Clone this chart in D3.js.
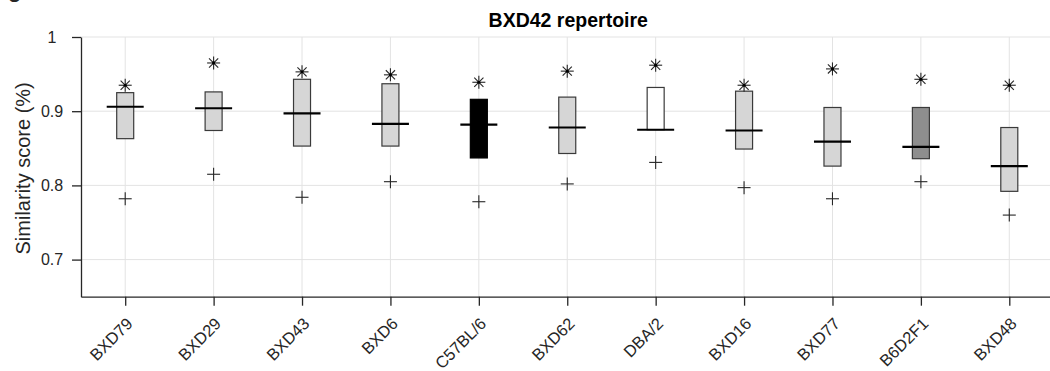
<!DOCTYPE html>
<html>
<head>
<meta charset="utf-8">
<script src="https://cdn.jsdelivr.net/npm/d3@7"></script>
<style>
  html, body { margin: 0; padding: 0; background: #fff; }
  svg { display: block; font-family: "Liberation Sans", Arial, Helvetica, sans-serif; }
</style>
</head>
<body>
<svg id="chart" width="1050" height="371"></svg>
<script>
// strains, in plot order
const strains = ["BXD79", "BXD29", "BXD43", "BXD6", "C57BL/6", "BXD62", "DBA/2", "BXD16", "BXD77", "B6D2F1", "BXD48"];
// box bottoms / tops (similarity score)
const boxLow  = [0.863, 0.874, 0.853, 0.853, 0.837, 0.843, 0.875, 0.849, 0.826, 0.836, 0.792];
const boxHigh = [0.925, 0.926, 0.943, 0.937, 0.916, 0.919, 0.932, 0.927, 0.905, 0.905, 0.878];
const medians = [0.906, 0.904, 0.897, 0.883, 0.882, 0.878, 0.875, 0.874, 0.859, 0.852, 0.826];
// asterisk markers (top) and plus markers (bottom)
const starVals = [0.935, 0.965, 0.953, 0.949, 0.939, 0.954, 0.962, 0.935, 0.957, 0.943, 0.935];
const plusVals = [0.782, 0.815, 0.784, 0.805, 0.778, 0.802, 0.831, 0.797, 0.782, 0.805, 0.760];
const yTicks = [0.7, 0.8, 0.9, 1];

// box fill per strain (parents/F1 stand out)
const fillFor = { "C57BL/6": "#000000", "DBA/2": "#ffffff", "B6D2F1": "#8e8e8e" };
const ink = "#262626";

const svg = d3.select("#chart");
const mLeft = 81, mRight = 1053.5, mTop = 37, mBottom = 296.7;

const x = d3.scalePoint().domain(strains).range([mLeft, mRight]).padding(0.5);
const y = d3.scaleLinear().domain([0.65, 1]).range([mBottom, mTop]);

// cropped panel letter
svg.append("text").attr("x", 8).attr("y", -3)
  .attr("font-size", 22).attr("font-weight", "bold").attr("fill", ink).text("g");

// grid
const grid = svg.append("g").attr("stroke", "#e3e3e3").attr("stroke-width", 1);
grid.selectAll("line.h").data(yTicks).enter().append("line")
  .attr("x1", mLeft).attr("x2", mRight)
  .attr("y1", d => y(d)).attr("y2", d => y(d));
grid.selectAll("line.v").data(strains).enter().append("line")
  .attr("x1", d => x(d)).attr("x2", d => x(d))
  .attr("y1", mTop).attr("y2", mBottom);

// axes
const yAxis = svg.append("g").attr("transform", `translate(${mLeft},0)`)
  .call(d3.axisLeft(y).tickValues(yTicks).tickFormat(d3.format("")).tickSize(9).tickSizeOuter(0));
const xAxis = svg.append("g").attr("transform", `translate(0,${mBottom})`)
  .call(d3.axisBottom(x).tickSize(9).tickSizeOuter(0));

[yAxis, xAxis].forEach(a => {
  a.select(".domain").attr("stroke", ink).attr("stroke-width", 1.3);
  a.selectAll(".tick line").attr("stroke", ink).attr("stroke-width", 1.3);
  a.selectAll("text").attr("fill", ink)
    .style("font-family", '"Liberation Sans", Arial, sans-serif');
});
yAxis.selectAll("text")
  .attr("font-size", 16)
  .attr("text-anchor", "middle")
  .attr("x", -29);
xAxis.selectAll("text")
  .attr("font-size", 16.5)
  .attr("text-anchor", "end")
  .attr("x", 0).attr("y", 0).attr("dy", 0)
  .attr("transform", "translate(8,28) rotate(-45)");

// boxes
const boxW = 17, medW = 37;
const g = svg.append("g");
g.selectAll("rect.box").data(strains).enter().append("rect")
  .attr("x", d => x(d) - boxW / 2)
  .attr("y", (d, i) => y(boxHigh[i]))
  .attr("width", boxW)
  .attr("height", (d, i) => y(boxLow[i]) - y(boxHigh[i]))
  .attr("fill", d => fillFor[d] || "#d6d6d6")
  .attr("stroke", d => d === "C57BL/6" ? "#000" : "#3a3a3a")
  .attr("stroke-width", 1.2);

g.selectAll("line.med").data(strains).enter().append("line")
  .attr("x1", d => x(d) - medW / 2).attr("x2", d => x(d) + medW / 2)
  .attr("y1", (d, i) => y(medians[i])).attr("y2", (d, i) => y(medians[i]))
  .attr("stroke", "#000").attr("stroke-width", 2.2);

// asterisk markers
const r = 6.5;
const stars = g.selectAll("g.star").data(strains).enter().append("g")
  .attr("transform", (d, i) => `translate(${x(d)},${y(starVals[i])})`);
[0, 45, 90, 135].forEach(a => {
  const rad = a * Math.PI / 180;
  stars.append("line")
    .attr("x1", -r * Math.cos(rad)).attr("y1", -r * Math.sin(rad))
    .attr("x2", r * Math.cos(rad)).attr("y2", r * Math.sin(rad))
    .attr("stroke", ink).attr("stroke-width", 1.1);
});
stars.append("circle").attr("r", 1.6).attr("fill", "#000");

// plus markers
const plus = g.selectAll("g.plus").data(strains).enter().append("g")
  .attr("transform", (d, i) => `translate(${x(d)},${y(plusVals[i])})`);
plus.append("line").attr("x1", -r).attr("x2", r).attr("y1", 0).attr("y2", 0)
  .attr("stroke", ink).attr("stroke-width", 1.1);
plus.append("line").attr("x1", 0).attr("x2", 0).attr("y1", -r).attr("y2", r)
  .attr("stroke", ink).attr("stroke-width", 1.1);

// title and y label
svg.append("text").attr("x", (mLeft + mRight) / 2 + 1).attr("y", 26.7)
  .attr("text-anchor", "middle").attr("font-size", 19.5).attr("font-weight", "bold")
  .attr("fill", "#000").text("BXD42 repertoire");

svg.append("text")
  .attr("transform", `translate(30,${(mTop + mBottom) / 2 + 1.5}) rotate(-90)`)
  .attr("text-anchor", "middle").attr("font-size", 20).attr("fill", ink)
  .text("Similarity score (%)");
</script>
</body>
</html>
